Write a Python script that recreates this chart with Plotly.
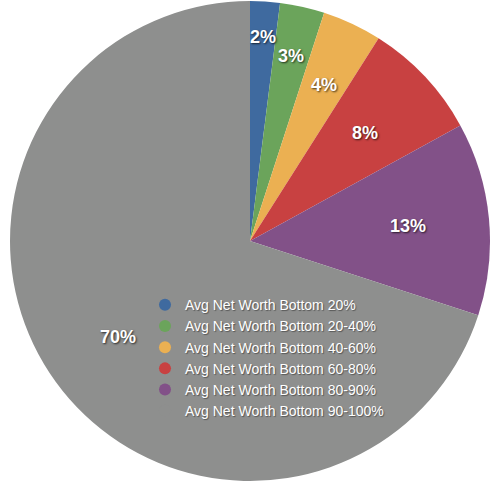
import math
import plotly.graph_objects as go

categories = [
    "Avg Net Worth Bottom 20%",
    "Avg Net Worth Bottom 20-40%",
    "Avg Net Worth Bottom 40-60%",
    "Avg Net Worth Bottom 60-80%",
    "Avg Net Worth Bottom 80-90%",
    "Avg Net Worth Bottom 90-100%",
]
values = [2, 3, 4, 8, 13, 70]
colors = ["#3F6A9F", "#6BA45B", "#EBB052", "#C84141", "#825188", "#8E8F8E"]

# style: radial placement of each percentage label (fraction of radius)
label_radius = [0.85, 0.79, 0.72, 0.66, 0.66, 0.68]

W, H = 500, 486
dom_x = [0.02, 0.98]
dom_y = [1 - 481 / H, 1 - 1 / H]

fig = go.Figure()
fig.add_trace(go.Pie(
    labels=categories,
    values=values,
    sort=False,
    direction="clockwise",
    rotation=0,
    marker=dict(colors=colors, line=dict(width=0)),
    textinfo="none",
    showlegend=False,
    hoverinfo="label+percent",
    domain=dict(x=dom_x, y=dom_y),
))

# percentage labels placed at slice mid-angles computed from the values
total = sum(values)
cx = (dom_x[0] + dom_x[1]) / 2
cy = (dom_y[0] + dom_y[1]) / 2
r_px = min((dom_x[1] - dom_x[0]) * W, (dom_y[1] - dom_y[0]) * H) / 2
cum = 0
for v, f in zip(values, label_radius):
    mid = (cum + v / 2) / total * 2 * math.pi
    cum += v
    fig.add_annotation(
        x=cx + f * r_px * math.sin(mid) / W,
        y=cy + f * r_px * math.cos(mid) / H,
        xref="paper", yref="paper", showarrow=False,
        xanchor="center", yanchor="middle",
        text=f"{round(v / total * 100)}%",
        font=dict(family="Liberation Sans, Arial, sans-serif", size=18, color="white",
                  weight="bold", shadow="1px 1px 2px rgba(0,0,0,0.7)"),
    )

# legend entries with circular markers
for name, col in zip(categories, colors):
    fig.add_trace(go.Scatter(
        x=[None], y=[None], mode="markers", name=name,
        marker=dict(color=col, size=12, symbol="circle"),
        showlegend=True, hoverinfo="skip",
    ))

fig.update_layout(
    width=W, height=H,
    margin=dict(l=0, r=0, t=0, b=0),
    paper_bgcolor="white", plot_bgcolor="rgba(0,0,0,0)",
    xaxis=dict(visible=False), yaxis=dict(visible=False),
    legend=dict(
        x=0.29, y=0.405, xanchor="left", yanchor="top",
        bgcolor="rgba(0,0,0,0)",
        font=dict(family="Liberation Sans, Arial, sans-serif", size=14, color="white",
                  shadow="1px 1px 1px rgba(0,0,0,0.4)"),
        itemclick=False, itemdoubleclick=False,
    ),
)

fig.write_html("out.html", config={"displayModeBar": False},
               post_script="document.body.style.margin='0px';")
